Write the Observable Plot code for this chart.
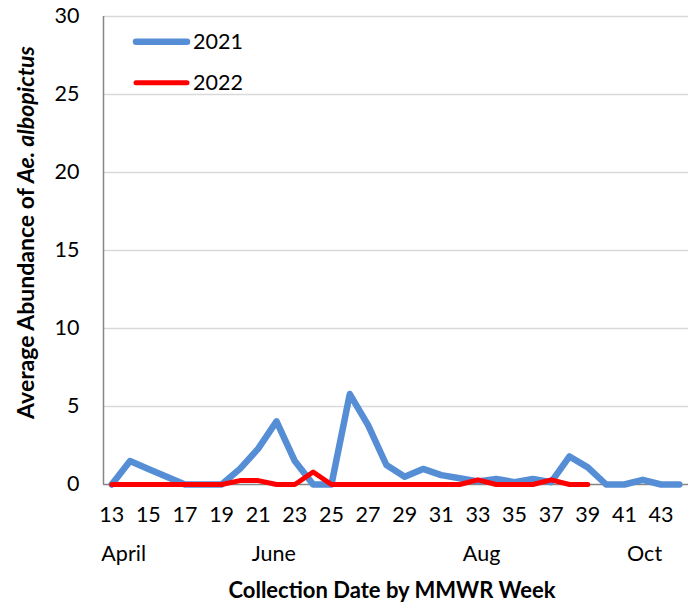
<!DOCTYPE html>
<html>
<head>
<meta charset="utf-8">
<script src="https://cdn.jsdelivr.net/npm/d3@7"></script>
<script src="https://cdn.jsdelivr.net/npm/@observablehq/plot@0.6"></script>
<style>
  html, body { margin: 0; padding: 0; background: #fff; }
  #chart svg { display: block; }
</style>
</head>
<body>
<div id="chart"></div>
<script>
// ---- Data ----
const weeks2021 = [13,14,15,16,17,18,19,20,21,22,23,24,25,26,27,28,29,30,31,32,33,34,35,36,37,38,39,40,41,42,43,44];
const abundance2021 = [0,1.5,1.0,0.5,0,0,0,1.0,2.3,4.05,1.5,0,0,5.8,3.8,1.25,0.5,1.0,0.6,0.4,0.2,0.35,0.15,0.35,0.15,1.8,1.1,0,0,0.3,0,0];
const weeks2022 = [13,14,15,16,17,18,19,20,21,22,23,24,25,26,27,28,29,30,31,32,33,34,35,36,37,38,39];
const abundance2022 = [0,0,0,0,0,0,0,0.25,0.25,0,0,0.8,0,0,0,0,0,0,0,0,0.3,0,0,0,0.3,0,0];
const xTickLabels = [13,15,17,19,21,23,25,27,29,31,33,35,37,39,41,43];
const yTickLabels = [0,5,10,15,20,25,30];
const monthNames = ["April","June","Aug","Oct"];
const monthWeeks = [13.65,21.85,33.2,42.1];
const seriesNames = ["2021","2022"];
const seriesColors = ["#558ED5","#FF0000"];
const seriesWidths = [6.5, 5];
const xTitle = "Collection Date by MMWR Week";
const yTitleMain = "Average Abundance of ";
const yTitleItalic = "Ae. albopictus";

const xDomain = [12.55, 44.5];
const yDomain = [0, 30];

const data2021 = weeks2021.map((w, i) => ({week: w, value: abundance2021[i]}));
const data2022 = weeks2022.map((w, i) => ({week: w, value: abundance2022[i]}));

const font = "Lato, 'Open Sans', sans-serif";
const fs = 21.5;

const chart = Plot.plot({
  width: 694,
  height: 606,
  marginLeft: 103,
  marginRight: 6,
  marginTop: 16,
  marginBottom: 122,
  style: {fontFamily: font, fontSize: fs + "px", color: "#000", background: "#fff"},
  x: {domain: xDomain, axis: null},
  y: {domain: yDomain, axis: null},
  marks: [
    Plot.gridY(yTickLabels.filter(v => v > 0), {stroke: "#d9d9d9", strokeOpacity: 1, strokeWidth: 1.4}),
    Plot.axisY(yTickLabels, {tickSize: 0, tickPadding: 24, fontSize: fs, label: null, fill: "#000"}),
    Plot.axisX(xTickLabels, {tickSize: 0, tickPadding: 22, fontSize: fs, label: null, fill: "#000"}),
    Plot.ruleX([xDomain[0]], {y1: yDomain[0], y2: yDomain[1], stroke: "#868686", strokeWidth: 1.5}),
    Plot.ruleY([0], {stroke: "#868686", strokeWidth: 1.5}),
    Plot.text(monthWeeks, {x: d => d, text: (d, i) => monthNames[i], frameAnchor: "bottom", lineAnchor: "top", dy: 61.5, fontSize: fs, fill: "#000"}),
    Plot.text([xTitle], {text: d => d, frameAnchor: "bottom", lineAnchor: "top", dy: 97.5, fontSize: 22, fontWeight: "bold", fill: "#000", dx: -4}),
    Plot.line(data2021, {x: "week", y: "value", stroke: seriesColors[0], strokeWidth: seriesWidths[0], strokeLinejoin: "round", strokeLinecap: "round"}),
    Plot.line(data2022, {x: "week", y: "value", stroke: seriesColors[1], strokeWidth: seriesWidths[1], strokeLinejoin: "round", strokeLinecap: "round"})
  ]
});

document.getElementById("chart").appendChild(chart);

const svg = d3.select(chart);

// Y-axis title with italic species name
const yt = svg.append("text")
  .attr("transform", "translate(34,232.5) rotate(-90)")
  .attr("text-anchor", "middle")
  .attr("font-family", font)
  .attr("font-size", 23)
  .attr("font-weight", "bold")
  .attr("fill", "#000");
yt.append("tspan").text(yTitleMain);
yt.append("tspan").attr("font-style", "italic").text(yTitleItalic);

// Legend inside the plot
const legendY = [41.7, 82.7];
const leg = svg.append("g").attr("text-anchor", "start");
seriesNames.forEach((name, i) => {
  leg.append("line")
    .attr("x1", 136).attr("x2", 187)
    .attr("y1", legendY[i]).attr("y2", legendY[i])
    .attr("stroke", seriesColors[i])
    .attr("stroke-width", seriesWidths[i])
    .attr("stroke-linecap", "round");
  leg.append("text")
    .attr("x", 193).attr("y", legendY[i])
    .attr("dy", "0.35em")
    .attr("text-anchor", "start")
    .attr("font-family", font)
    .attr("font-size", fs)
    .attr("fill", "#000")
    .text(name);
});
</script>
</body>
</html>
